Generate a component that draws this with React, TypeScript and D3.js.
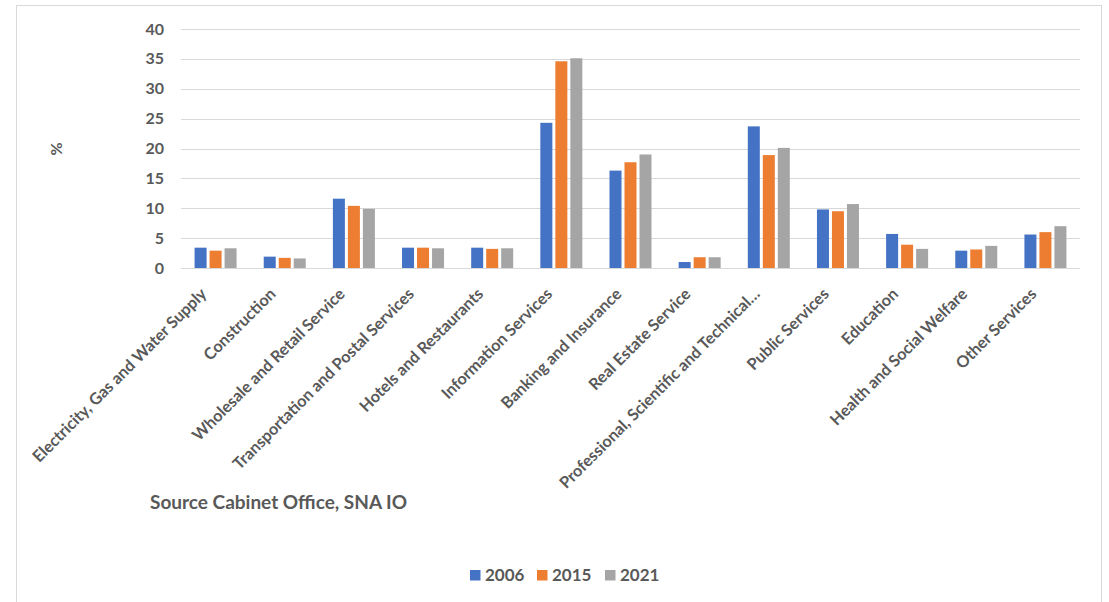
import React from "react";
import * as d3 from "d3";

const categories = [
  "Electricity, Gas and Water Supply",
  "Construction",
  "Wholesale and Retail Service",
  "Transportation and Postal Services",
  "Hotels and Restaurants",
  "Information Services",
  "Banking and Insurance",
  "Real Estate Service",
  "Professional, Scientific and Technical…",
  "Public Services",
  "Education",
  "Health and Social Welfare",
  "Other Services",
];
const seriesNames = ["2006", "2015", "2021"];
const values2006 = [3.4, 1.9, 11.6, 3.4, 3.4, 24.3, 16.3, 1.0, 23.7, 9.8, 5.7, 2.9, 5.6];
const values2015 = [2.9, 1.7, 10.4, 3.4, 3.2, 34.6, 17.7, 1.8, 18.9, 9.5, 3.9, 3.1, 6.0];
const values2021 = [3.3, 1.6, 9.9, 3.3, 3.3, 35.1, 19.0, 1.8, 20.1, 10.7, 3.2, 3.7, 7.0];
const yTicks = [0, 5, 10, 15, 20, 25, 30, 35, 40];
const colors = ["#4472C4", "#ED7D31", "#A5A5A5"];

const W = 1109;
const H = 602;
const FONT = "Lato, 'Open Sans', sans-serif";
const TEXT = "#595959";

export default function App() {
  const series = [values2006, values2015, values2021];
  const x = d3.scaleBand<string>().domain(categories).range([181, 1080]).padding(0);
  const y = d3.scaleLinear().domain([0, 40]).range([268, 29]);
  const inner = d3.scaleBand<string>().domain(seriesNames).range([0, 42]).paddingInner(0.2);
  const groupOffset = (x.bandwidth() - 42) / 2;

  const legendX = [470, 537, 605];

  return (
    <svg
      width={W}
      height={H}
      style={{ position: "absolute", left: 0, top: 0, background: "#fff" }}
      fontFamily={FONT}
    >
      <rect x={16.5} y={5.5} width={1085} height={620} fill="#fff" stroke="#d9d9d9" strokeWidth={1} />
      {yTicks.map((t) => (
        <g key={t}>
          <line x1={181} x2={1080} y1={Math.round(y(t)) + 0.5} y2={Math.round(y(t)) + 0.5} stroke="#d9d9d9" strokeWidth={1} />
          <text x={164} y={y(t)} dy="0.35em" textAnchor="end" fontSize={16} fontWeight={700} fill={TEXT}>
            {t}
          </text>
        </g>
      ))}
      {categories.map((c, i) => (
        <g key={c} transform={`translate(${(x(c) as number) + groupOffset},0)`}>
          {seriesNames.map((s, k) => (
            <rect
              key={s}
              x={inner(s)}
              y={y(series[k][i])}
              width={inner.bandwidth()}
              height={y(0) - y(series[k][i])}
              fill={colors[k]}
            />
          ))}
        </g>
      ))}
      {categories.map((c) => {
        const cx = (x(c) as number) + x.bandwidth() / 2;
        return (
          <text
            key={c}
            transform={`translate(${cx - 12},${291}) rotate(-45)`}
            textAnchor="end"
            dy="0.35em"
            fontSize={16.2}
            fontWeight={700}
            fill={TEXT}
          >
            {c}
          </text>
        );
      })}
      <text
        transform={`translate(56,149) rotate(-90)`}
        textAnchor="middle"
        dy="0.35em"
        fontSize={16}
        fontWeight={700}
        fill={TEXT}
      >
        %
      </text>
      <text x={150} y={509} fontSize={19} fontWeight={700} fill={TEXT}>
        Source Cabinet Office, SNA IO
      </text>
      {seriesNames.map((s, k) => (
        <g key={s}>
          <rect x={legendX[k]} y={570} width={10.5} height={10.5} fill={colors[k]} />
          <text x={legendX[k] + 15} y={575.5} dy="0.35em" fontSize={17} fontWeight={700} fill={TEXT}>
            {s}
          </text>
        </g>
      ))}
    </svg>
  );
}
